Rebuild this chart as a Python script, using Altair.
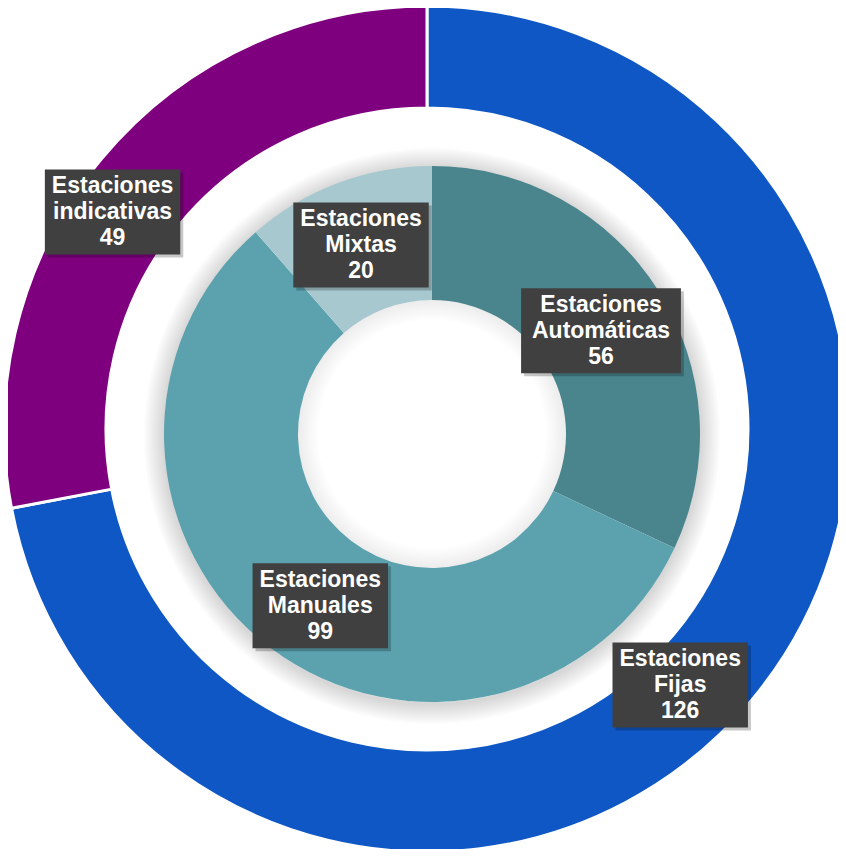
import math
import altair as alt
import pandas as pd

# ---- data ----
outer_labels = ["Estaciones Fijas", "Estaciones indicativas"]
outer_values = [126, 49]
inner_labels = ["Estaciones Automáticas", "Estaciones Manuales", "Estaciones Mixtas"]
inner_values = [56, 99, 20]

outer_colors = ["#0F57C5", "#7F007F"]
inner_colors = ["#4A858E", "#5BA2AE", "#A8C8D0"]

# ---- layout ----
W, H = 830, 841
OCX, OCY = 419, 421          # outer ring centre (chart coords)
ICX, ICY = 424, 426          # inner ring centre (chart coords)
R_OUT, R_OUT_IN = 423, 321
R_IN, R_IN_IN = 268, 134
FONT = 23
LINE_H = 26

# label placement (angle offset in degrees, radius) - layout only
nudges = {
    "Estaciones Fijas": (5.7, 360),
    "Estaciones indicativas": (-5.0, 382),
    "Estaciones Automáticas": (1.0, 198),
    "Estaciones Manuales": (-4.0, 205),
    "Estaciones Mixtas": (0.0, 202),
}

CW = {"E": 667, "s": 556, "t": 333, "a": 556, "c": 556, "i": 278, "o": 611, "n": 611,
      "e": 556, "A": 722, "u": 611, "m": 889, "á": 556, "M": 833, "l": 278, "d": 611,
      "v": 556, "F": 611, "j": 278, "x": 556}


def text_w(s):
    return sum(CW.get(ch, 556) for ch in s) * FONT / 1000.0


def ring_df(labels, values):
    df = pd.DataFrame({"cat": labels, "value": values})
    df["order"] = range(len(df))
    return df


outer_df = ring_df(outer_labels, outer_values)
inner_df = ring_df(inner_labels, inner_values)

rows = []
for labels, values, (cx, cy) in [(outer_labels, outer_values, (OCX, OCY)),
                                 (inner_labels, inner_values, (ICX, ICY))]:
    total = sum(values)
    cum = 0
    for lab, v in zip(labels, values):
        mid = (cum + v / 2) / total * 360
        cum += v
        off, r = nudges[lab]
        ang = math.radians(mid + off)
        x = cx + r * math.sin(ang)
        y = cy - r * math.cos(ang)
        first, second = lab.split(" ", 1)
        lines = [first, second, str(v)]
        tw = max(text_w(l) for l in lines)
        bw = tw + 14 + max(0, tw - 125) * 0.6
        bh = 85
        rows.append({"cat": lab, "x": x, "y": y, "text": "\n".join(lines),
                     "x1": x - bw / 2, "x2": x + bw / 2, "y1": y - bh / 2, "y2": y + bh / 2,
                     "sx1": x - bw / 2 + 3, "sx2": x + bw / 2 + 3,
                     "sy1": y - bh / 2 + 3, "sy2": y + bh / 2 + 3})
lab_df = pd.DataFrame(rows)

color_scale = alt.Scale(domain=outer_labels + inner_labels, range=outer_colors + inner_colors)
xs = alt.Scale(domain=[0, W], range=[0, W])
ys = alt.Scale(domain=[0, H], range=[0, H])

outer = alt.Chart(outer_df).mark_arc(
    outerRadius=R_OUT, innerRadius=R_OUT_IN, stroke="white", strokeWidth=3
).encode(
    theta=alt.Theta("value:Q", stack=True),
    order=alt.Order("order:Q"),
    color=alt.Color("cat:N", scale=color_scale, legend=None),
    x=alt.value(OCX), y=alt.value(OCY),
)

one = pd.DataFrame({"k": [0]})
# soft shadow outside the inner ring
shadow_layers = []
for k in range(1, 11):
    shadow_layers.append(
        alt.Chart(one).mark_arc(
            outerRadius=R_IN + 2 * k, innerRadius=R_IN - 2,
            color="black", opacity=0.016
        ).encode(theta=alt.value(2 * math.pi), x=alt.value(ICX), y=alt.value(ICY + 2))
    )
# soft shadow inside the hole
hole_shadow = []
for k in range(1, 10):
    hole_shadow.append(
        alt.Chart(one).mark_arc(
            outerRadius=R_IN_IN + 2, innerRadius=R_IN_IN - 2.2 * k,
            color="black", opacity=0.009
        ).encode(theta=alt.value(2 * math.pi), x=alt.value(ICX), y=alt.value(ICY))
    )

inner = alt.Chart(inner_df).mark_arc(
    outerRadius=R_IN, innerRadius=R_IN_IN
).encode(
    theta=alt.Theta("value:Q", stack=True),
    order=alt.Order("order:Q"),
    color=alt.Color("cat:N", scale=color_scale, legend=None),
    x=alt.value(ICX), y=alt.value(ICY),
)

box_shadow = alt.Chart(lab_df).mark_rect(color="black", opacity=0.22).encode(
    x=alt.X("sx1:Q", scale=xs, axis=None), x2="sx2:Q",
    y=alt.Y("sy1:Q", scale=ys, axis=None), y2="sy2:Q",
)
boxes = alt.Chart(lab_df).mark_rect(color="#404040").encode(
    x=alt.X("x1:Q", scale=xs, axis=None), x2="x2:Q",
    y=alt.Y("y1:Q", scale=ys, axis=None), y2="y2:Q",
)
texts = alt.Chart(lab_df).mark_text(
    color="white", fontSize=FONT, fontWeight="bold", font="Liberation Sans",
    lineBreak="\n", lineHeight=LINE_H, align="center", baseline="middle", dy=-LINE_H
).encode(
    x=alt.X("x:Q", scale=xs, axis=None),
    y=alt.Y("y:Q", scale=ys, axis=None),
    text="text:N",
)

chart = alt.layer(
    outer, *shadow_layers, *hole_shadow, inner, box_shadow, boxes, texts
).properties(
    width=W, height=H, padding=0,
    autosize=alt.AutoSizeParams(type="none"),
).configure_view(stroke=None)

chart.save("out.html", embed_options={"renderer": "svg", "actions": False})
